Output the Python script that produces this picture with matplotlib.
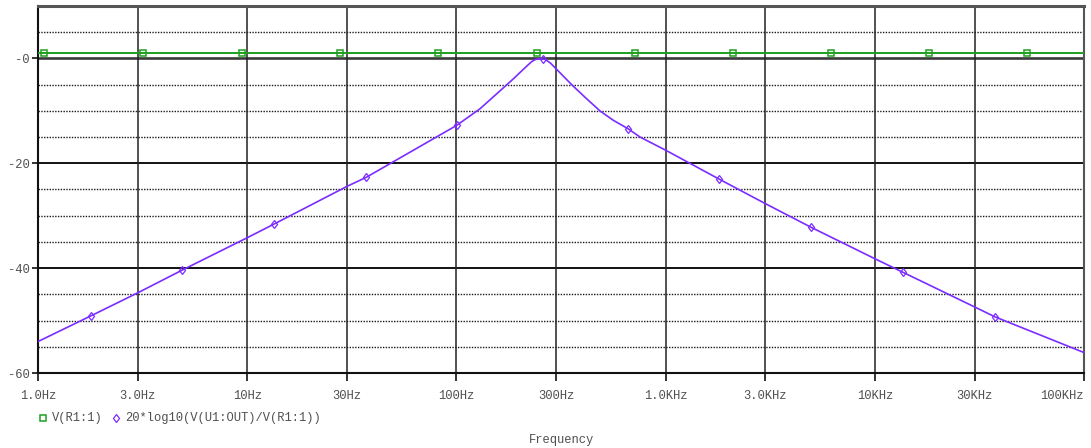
import numpy as np
import matplotlib
matplotlib.use("Agg")
import matplotlib.pyplot as plt
from matplotlib.lines import Line2D

# ---- data ----
freq_hz = [1.0, 1.79, 3.0, 4.875, 10.0, 13.43, 30.0, 36.98, 100.0, 129.7,
           161.4, 187.1, 213.8, 229.1, 239.9, 251.2, 266.1, 281.8, 300.0,
           355.6, 416.9, 485.3, 562.3, 660.7, 755.1, 1000.0, 1799.0, 3000.0, 4955.0,
           10000.0, 13646.0, 30000.0, 37584.0, 100000.0]
gain_db = [-54.0, -49.1, -44.7, -40.4, -34.2, -31.6, -24.4, -22.7, -12.8, -9.6,
           -6.2, -3.9, -1.7, -0.6, -0.15, 0.0, -0.2, -0.9, -2.0,
           -5.0, -7.6, -10.0, -11.8, -13.4, -15.0, -17.5, -23.0, -27.7, -32.2,
           -38.2, -40.8, -47.4, -49.3, -56.1]
vin_freq = [1.0, 100000.0]
vin_val = [1.0, 1.0]
# marker positions along the traces
vin_marker_freq = [1.068, 3.177, 9.44, 27.8, 81.7, 242.7, 714.5, 2099.0, 6180.0, 18160.0, 53460.0]
gain_marker_freq = [1.79, 4.875, 13.43, 36.98, 100.7, 259.4, 660.7, 1799.0, 4955.0, 13646.0, 37584.0]

xticks = [1, 3, 10, 30, 100, 300, 1000, 3000, 10000, 30000, 100000]
xticklabels = ["1.0Hz", "3.0Hz", "10Hz", "30Hz", "100Hz", "300Hz", "1.0KHz",
               "3.0KHz", "10KHz", "30KHz", "100KHz"]
yticks = [0, -20, -40, -60]
yticklabels = ["-0", "-20", "-40", "-60"]
minor_y = [5, -5, -10, -15, -25, -30, -35, -45, -50, -55]

purple = "#7b2cff"
green = "#1f9f1f"
mono = ["Liberation Mono", "DejaVu Sans Mono"]
txtcol = "#505050"
fs = 8.7

fig = plt.figure(figsize=(10.91, 4.48), dpi=100)
W, H = 1091, 448
L, R, T, B = 38, 1084, 6, 373
ax = fig.add_axes([L / W, 1 - B / H, (R - L) / W, (B - T) / H])
ax.set_xscale("log")
ax.set_xlim(1, 100000)
ax.set_ylim(-60, 10)

# grid
for y in minor_y:
    ax.axhline(y, color="#1a1a1a", lw=1.0, ls=(0, (1, 1)), zorder=1)
for y in [-20, -40]:
    ax.axhline(y, color="#111111", lw=1.4, zorder=1)
ax.axhline(0, color="#3a3a3a", lw=1.9, zorder=1)
for x in xticks[1:-1]:
    ax.axvline(x, color="#222222", lw=1.1, zorder=1)

# traces
ax.plot(vin_freq, vin_val, color=green, lw=1.4, zorder=3)
ax.plot(freq_hz, gain_db, color=purple, lw=1.2, zorder=3)
lf = np.log10(freq_hz)
vin_mk_y = np.interp(np.log10(vin_marker_freq), np.log10(vin_freq), vin_val)
gain_mk_y = np.interp(np.log10(gain_marker_freq), lf, gain_db)
ax.plot(vin_marker_freq, vin_mk_y, ls="none", marker="s", ms=4, mfc="none",
        mec=green, mew=1.1, zorder=4)
ax.plot(gain_marker_freq, gain_mk_y, ls="none", marker="d", ms=4.5, mfc="none",
        mec=purple, mew=0.9, zorder=4)

# spines
ax.spines["top"].set_color("#555555")
ax.spines["top"].set_linewidth(2.2)
ax.spines["right"].set_color("#555555")
ax.spines["right"].set_linewidth(1.5)
ax.spines["left"].set_color("#111111")
ax.spines["left"].set_linewidth(1.5)
ax.spines["bottom"].set_color("#111111")
ax.spines["bottom"].set_linewidth(1.5)

ax.set_xticks(xticks)
ax.set_xticklabels(xticklabels)
ax.xaxis.set_minor_locator(matplotlib.ticker.NullLocator())
ax.set_yticks(yticks)
ax.set_yticklabels(yticklabels)
ax.tick_params(axis="both", direction="out", width=1.2, color="#111111",
               labelcolor=txtcol, labelsize=fs)
ax.tick_params(axis="x", length=6, pad=6)
ax.tick_params(axis="y", length=4, pad=2)
for lab in ax.get_xticklabels() + ax.get_yticklabels():
    lab.set_family(mono)
ax.get_xticklabels()[-1].set_horizontalalignment("right")

fig.text((L + R) / 2 / W, 1 - 440 / H, "Frequency", family=mono, fontsize=fs,
         color=txtcol, ha="center", va="center")

# legend row
ly = 1 - 418 / H
fig.add_artist(Line2D([43 / W], [ly], marker="s", ms=4, mfc="none", mec=green,
                      mew=1.1, ls="none", transform=fig.transFigure))
fig.text(52 / W, ly, "V(R1:1)", family=mono, fontsize=fs, color=txtcol, va="center")
fig.add_artist(Line2D([116 / W], [ly], marker="d", ms=4.5, mfc="none", mec=purple,
                      mew=0.9, ls="none", transform=fig.transFigure))
fig.text(125 / W, ly, "20*log10(V(U1:OUT)/V(R1:1))", family=mono, fontsize=fs,
         color=txtcol, va="center")

fig.savefig("out.png", dpi=100)
